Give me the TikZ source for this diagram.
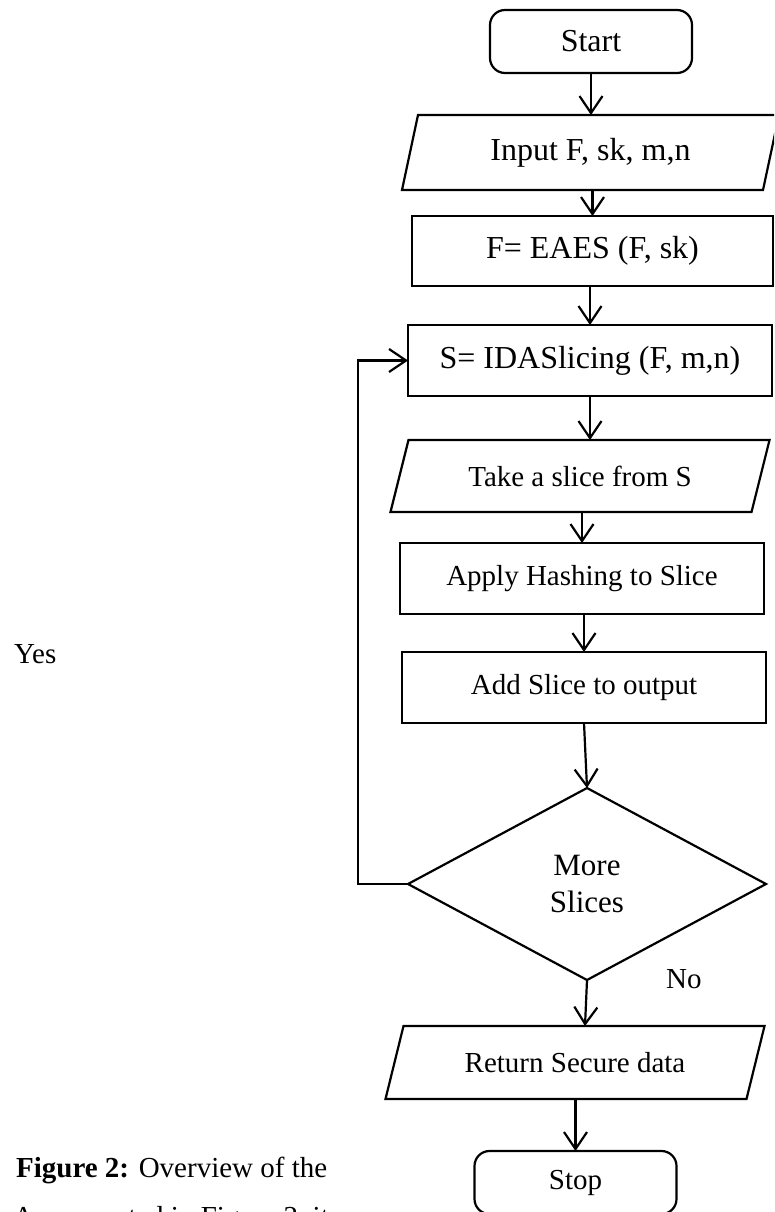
\documentclass[tikz,border=0pt]{standalone}
\usepackage{fontspec}
\setmainfont{Liberation Serif}
\usetikzlibrary{arrows.meta,shapes.geometric}
\begin{document}
\begin{tikzpicture}[x=1pt,y=-1pt,
  line width=2.2pt,
  shapebox/.style={draw, outer sep=0pt, inner sep=0pt, align=center},
  procbox/.style={shapebox, rectangle, minimum width=364pt, minimum height=71pt},
  termbox/.style={shapebox, rectangle, rounded corners=15pt, minimum width=202pt, minimum height=63pt},
  iobox/.style={rectangle, outer sep=0pt, inner sep=0pt, minimum width=361pt},
  decisionbox/.style={shapebox, diamond, minimum width=358pt, minimum height=192pt},
  flow/.style={-{Straight Barb[length=17pt,width=23pt]}},
  bigtext/.style={font=\fontsize{32}{38}\selectfont},
  midtext/.style={font=\fontsize{29}{35}\selectfont},
  label/.style={midtext, anchor=base west, inner sep=0pt},
]
% page
\useasboundingbox (0,0) rectangle (774,1212);
\fill[white] (0,0) rectangle (774,1212);
\clip (0,0) rectangle (774,1212);

% terminals and process steps
\node[termbox, bigtext] (start) at (591,41.5) {Start};
\node[iobox, bigtext, minimum height=75pt] (input) at (590.5,152.5) {Input F, sk, m,n};
\node[procbox, bigtext, minimum width=361pt, minimum height=70pt] (eaes) at (592.5,251) {F= EAES (F, sk)};
\node[procbox, bigtext] (ida) at (590,360.5) {S= IDASlicing (F, m,n)};
\node[iobox, midtext, minimum height=72pt] (take) at (580,476) {Take a slice from S};
\node[procbox, midtext] (apply) at (582,578.5) {Apply Hashing to Slice};
\node[procbox, midtext] (add) at (584,687.5) {Add Slice to output};
\node[decisionbox, font=\fontsize{31}{37}\selectfont] (dec) at (587,884) {More\\Slices};
\node[iobox, midtext, minimum height=73pt] (ret) at (575,1062.5) {Return Secure data};
\node[termbox, midtext] (stop) at (575.5,1182.5) {Stop};

% slanted outlines of the input/output steps
\foreach \n/\s in {input/8, take/9, ret/9}{
  \draw ([xshift=-\s pt]\n.south west) -- ([xshift=\s pt]\n.north west)
     -- ([xshift=\s pt]\n.north east) -- ([xshift=-\s pt]\n.south east) -- cycle;
}

% connectors
\draw[flow] (start.south) -- (start.south |- input.north);
\draw[flow] (eaes.north |- input.south) -- (eaes.north);
\draw[flow] (ida.north |- eaes.south) -- (ida.north);
\draw[flow] (ida.south) -- (ida.south |- take.north);
\draw[flow] (apply.north |- take.south) -- (apply.north);
\draw[flow] (add.north |- apply.south) -- (add.north);
\draw[flow] (add.south) -- (dec.north);
\draw[flow] (dec.south) -- ([xshift=-2pt]dec.south |- ret.north);
\draw[flow] (stop.north |- ret.south) -- (stop.north);
\draw[flow] (dec.west) -- ++(-50,0) |- (ida.west);

% branch labels and text
\node[label] (yes) at (13,663) {Yes};
\node[label] (no) at (665,988) {No};
\node[label] (caption) at (15,1177) {\textbf{Figure 2:} Overview of the};
\node[label] (body) at (12,1226) {As presented in Figure 2, it};
\end{tikzpicture}
\end{document}
